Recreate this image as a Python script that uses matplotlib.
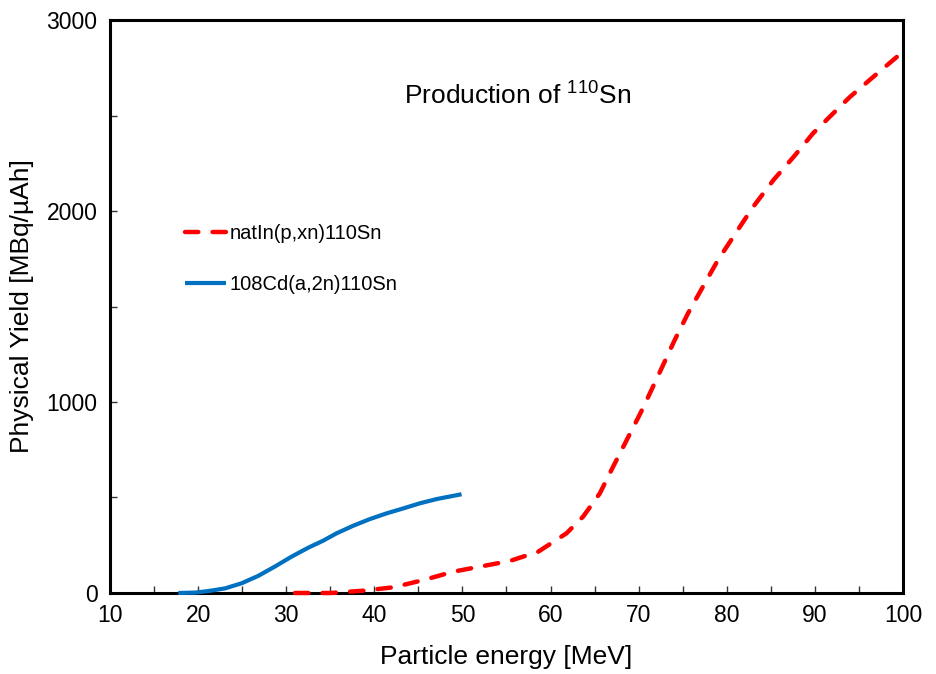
import matplotlib
matplotlib.use("Agg")
import matplotlib.pyplot as plt

plt.rcParams['font.family'] = ['Liberation Sans', 'DejaVu Sans']
plt.rcParams['mathtext.fontset'] = 'custom'
plt.rcParams['mathtext.rm'] = 'Liberation Sans'
plt.rcParams['mathtext.it'] = 'Liberation Sans'

# natIn(p,xn)110Sn
in_energy = [31, 35, 38.75, 42.2, 45.6, 49.0, 52.0, 55.4, 58.6, 61.8, 63.7, 65.6,
             67.1, 68.65, 70.2, 71.1, 72.6, 74.1, 75.6, 77.3, 79.0, 81.5, 83.0,
             85.3, 87.6, 89.8, 91.7, 94.0, 96.65, 100]
in_yield = [0, 0, 12, 30, 68, 112, 138, 168, 216, 312, 400, 522,
            661, 801, 941, 1028, 1176, 1325, 1464, 1604, 1743, 1918, 2022,
            2162, 2284, 2407, 2494, 2598, 2703, 2834]

# 108Cd(a,2n)110Sn
cd_energy = [17.75, 19.65, 21.16, 23.05, 24.95, 26.8, 28.7, 30.6, 32.5, 34.2,
             35.7, 37.6, 39.5, 41.4, 43.3, 45.2, 47.1, 49.9]
cd_yield = [0, 2, 10, 24, 51, 89, 138, 190, 237, 274,
            312, 352, 387, 417, 443, 470, 492, 517]

x_ticks = [10, 20, 30, 40, 50, 60, 70, 80, 90, 100]
y_ticks = [0, 1000, 2000, 3000]

fig = plt.figure(figsize=(9.36, 6.74), dpi=100)
ax = fig.add_axes([0.1175, 0.1202, 0.8472, 0.8501])

ax.plot(in_energy, in_yield, color='#ff0000', lw=3.2, linestyle=(0, (3.0, 3.2)),
        dash_capstyle='round', clip_on=False, zorder=3, label='natIn(p,xn)110Sn')
ax.plot(cd_energy, cd_yield, color='#0070c0', lw=3.0, solid_capstyle='butt',
        solid_joinstyle='round', clip_on=False, zorder=3, label='108Cd(a,2n)110Sn')

ax.set_xlim(10, 100)
ax.set_ylim(0, 3000)
ax.set_xticks(x_ticks)
ax.set_yticks(y_ticks)
ax.set_xticks(range(15, 100, 10), minor=True)
ax.set_yticks([500, 1500, 2500], minor=True)
ax.tick_params(which='both', direction='in', length=5, width=1, color='#333333',
               labelsize=16.5, pad=9)
ax.tick_params(axis='x', which='major', pad=8)

for s in ax.spines.values():
    s.set_linewidth(2.2)
    s.set_color('black')

ax.set_xlabel('Particle energy [MeV]', fontsize=19, labelpad=13)
ax.set_ylabel('Physical Yield [MBq/\u00b5Ah]', fontsize=19, labelpad=9)

ax.text(0.5145, 0.868, 'Production of $^{110}$Sn', transform=ax.transAxes,
        ha='center', va='center', fontsize=19)

leg = ax.legend(loc='upper left', bbox_to_anchor=(0.0845, 0.658), frameon=False,
                fontsize=14.5, handlelength=2.05, handletextpad=0.15, labelspacing=1.57,
                borderaxespad=0)

fig.savefig('out.png', dpi=100)
